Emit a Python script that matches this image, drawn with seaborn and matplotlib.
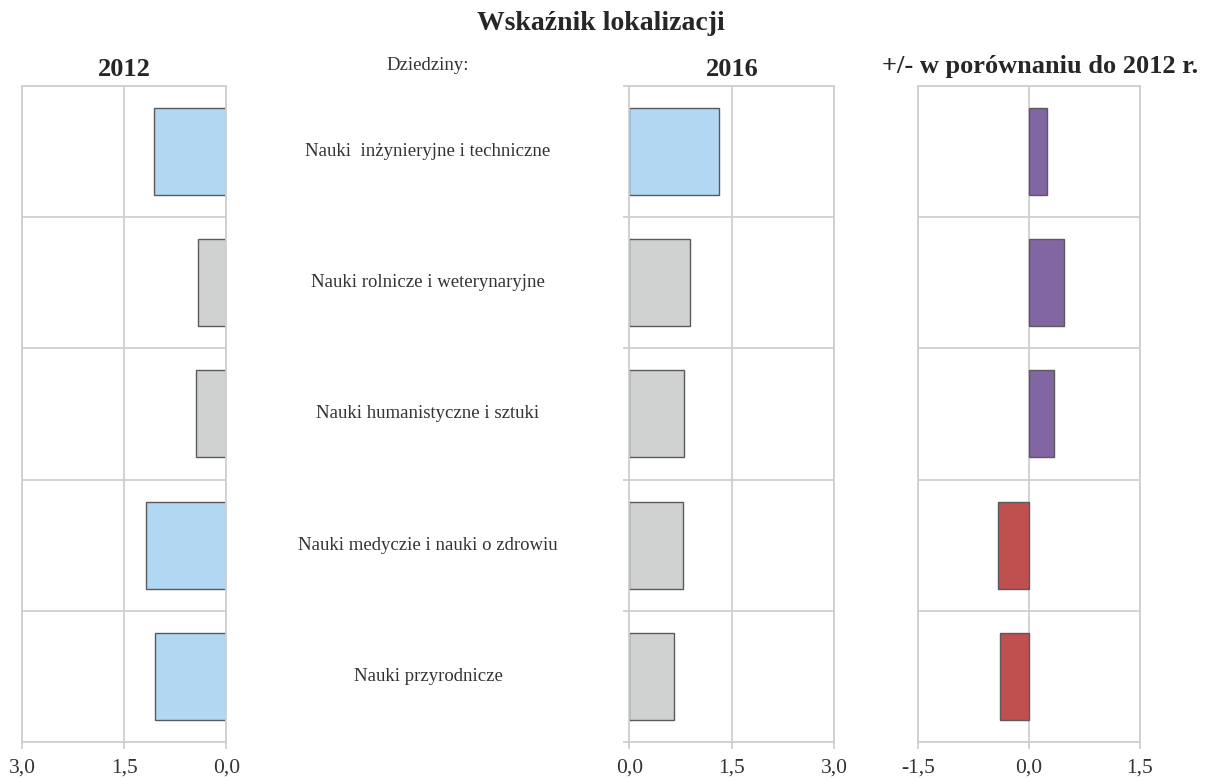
import pandas as pd
import seaborn as sns
import matplotlib.pyplot as plt
import matplotlib.transforms as mtransforms
import matplotlib.ticker as ticker

# dane
dziedziny = ['Nauki  inżynieryjne i techniczne', 'Nauki rolnicze i weterynaryjne',
             'Nauki humanistyczne i sztuki', 'Nauki medyczie i nauki o zdrowiu',
             'Nauki przyrodnicze']
wsk_2012 = [1.06, 0.41, 0.45, 1.18, 1.05]
wsk_2016 = [1.31, 0.89, 0.80, 0.79, 0.66]
zmiana = [0.24, 0.48, 0.34, -0.41, -0.39]

kol_2012 = ['#B1D7F2', '#D0D1D1', '#D0D1D1', '#B1D7F2', '#B1D7F2']
kol_2016 = ['#B1D7F2', '#D0D1D1', '#D0D1D1', '#D0D1D1', '#D0D1D1']
kol_zm = ['#8166A3', '#8166A3', '#8166A3', '#C0504F', '#C0504F']

sns.set_style('white')
plt.rcParams['font.family'] = ['Liberation Serif', 'DejaVu Serif']

W, H = 1210, 778
fig = plt.figure(figsize=(W / 100, H / 100), dpi=100)

def px_axes(x0, x1, y0, y1):
    return fig.add_axes([x0 / W, 1 - y1 / H, (x1 - x0) / W, (y1 - y0) / H])

top, bottom = 85.7, 742.2
ax1 = px_axes(22.3, 226.3, top, bottom)
ax2 = px_axes(629.3, 834.3, top, bottom)
ax3 = px_axes(917.7, 1140, top, bottom)

grid_c = '#CFCFCF'
fmt = ticker.FuncFormatter(lambda x, p: '{:.1f}'.format(x).replace('.', ','))

for ax, vals, cols in [(ax1, wsk_2012, kol_2012), (ax2, wsk_2016, kol_2016), (ax3, zmiana, kol_zm)]:
    df = pd.DataFrame({'Dziedzina': dziedziny, 'Wartosc': vals})
    sns.barplot(data=df, x='Wartosc', y='Dziedzina', hue='Dziedzina',
                palette=dict(zip(dziedziny, cols)), legend=False, orient='h',
                width=0.663, saturation=1, edgecolor='#5A5A5A', linewidth=1.0, ax=ax)
    ax.set_xlabel('')
    ax.set_ylabel('')
    ax.set_ylim(4.5, -0.5)
    ax.set_yticks([-0.5, 0.5, 1.5, 2.5, 3.5, 4.5])
    ax.set_yticklabels([])
    ax.xaxis.set_major_formatter(fmt)
    ax.grid(True, color=grid_c, linewidth=1.3)
    ax.set_axisbelow(True)
    for s in ax.spines.values():
        s.set_color(grid_c)
        s.set_linewidth(1.3)
    ax.tick_params(axis='x', which='both', bottom=True, length=5, width=1.3, color=grid_c,
                   labelsize=15.5, labelcolor='#333333', pad=7)
    ax.tick_params(axis='y', left=False, length=0)

ax1.set_xlim(3.0, 0.0)
ax1.set_xticks([3.0, 1.5, 0.0])
ax2.set_xlim(0.0, 3.0)
ax2.set_xticks([0.0, 1.5, 3.0])
ax2.tick_params(axis='y', left=True, length=4, width=1.3, color=grid_c)
ax3.set_xlim(-1.5, 1.5)
ax3.set_xticks([-1.5, 0.0, 1.5])

# tytuły paneli
ax1.set_title('2012', fontsize=19, fontweight='bold', color='#262626', pad=7)
ax2.set_title('2016', fontsize=19, fontweight='bold', color='#262626', pad=7)
ax3.text(0.55, 1.012, '+/- w porównaniu do 2012 r.', transform=ax3.transAxes, ha='center',
         va='bottom', fontsize=19, fontweight='bold', color='#262626')

fig.text(601 / W, 1 - 24 / H, 'Wskaźnik lokalizacji', ha='center', va='center',
         fontsize=20, fontweight='bold', color='#262626')
fig.text(428 / W, 1 - 66 / H, 'Dziedziny:', ha='center', va='center', fontsize=13.5, color='#333333')

# etykiety dziedzin pomiędzy panelami
trans = mtransforms.blended_transform_factory(fig.transFigure, ax2.transData)
for i, d in enumerate(dziedziny):
    fig.text(428 / W, i, d, transform=trans, ha='center', va='center', fontsize=13.5, color='#333333')

fig.savefig('out.png', dpi=100)
